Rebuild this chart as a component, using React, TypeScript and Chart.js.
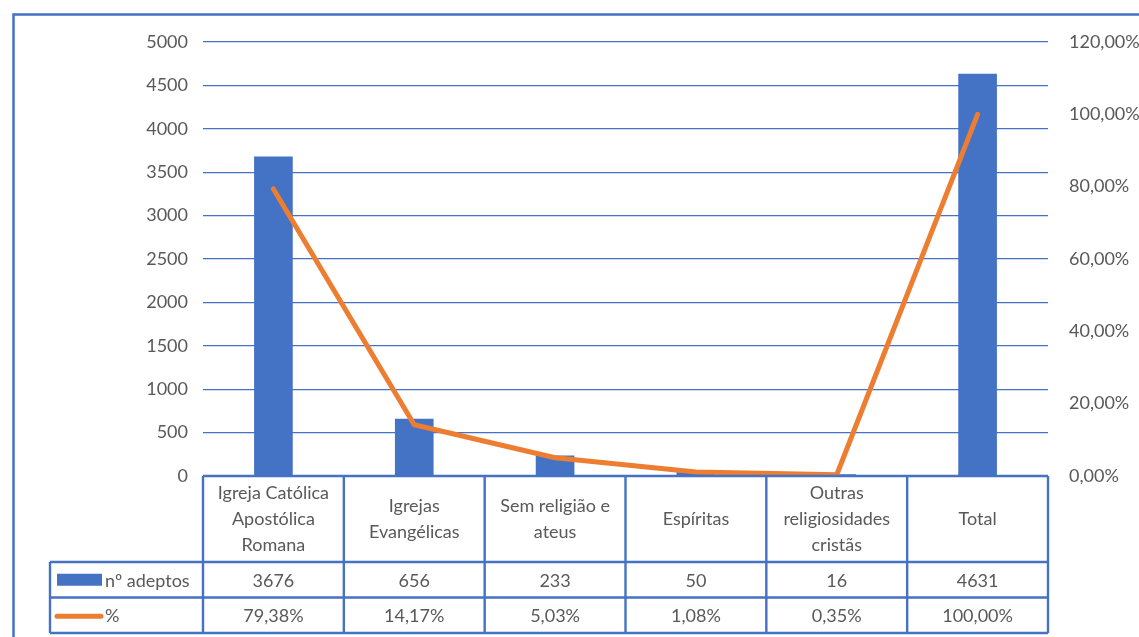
import React, { useEffect, useRef } from "react";
import { Chart, registerables } from "chart.js";

Chart.register(...registerables);

const categories: string[][] = [
  ["Igreja Católica", "Apostólica", "Romana"],
  ["Igrejas", "Evangélicas"],
  ["Sem religião e", "ateus"],
  ["Espíritas"],
  ["Outras", "religiosidades", "cristãs"],
  ["Total"],
];
const adeptos: number[] = [3676, 656, 233, 50, 16, 4631];
const percent: number[] = [79.38, 14.17, 5.03, 1.08, 0.35, 100.0];
const seriesNames: string[] = ["nº adeptos", "%"];

const BLUE = "#4472C4";
const ORANGE = "#ED7D31";
const TEXT = "#595959";
const FONT = "Lato, 'Open Sans', sans-serif";

const fmtPct = (v: number) => v.toFixed(2).replace(".", ",") + "%";

const tablePlugin = {
  id: "dataTable",
  afterDraw(chart: any) {
    const ctx = chart.ctx as CanvasRenderingContext2D;
    const area = chart.chartArea;
    const n = categories.length;
    const w = (area.right - area.left) / n;
    const top = area.bottom;
    const headH = 86;
    const rowH = 35.5;
    const legendLeft = 50;
    const r1 = top + headH;
    const r2 = r1 + rowH;
    const r3 = r2 + rowH;
    ctx.save();
    // outer frame
    ctx.strokeStyle = BLUE;
    ctx.lineWidth = 2.5;
    ctx.strokeRect(13.5, 14.5, 1300, 800);

    ctx.lineWidth = 2.4;
    ctx.strokeStyle = BLUE;
    ctx.beginPath();
    ctx.moveTo(area.left, top);
    ctx.lineTo(area.right, top);
    ctx.moveTo(legendLeft, r1);
    ctx.lineTo(area.right, r1);
    ctx.moveTo(legendLeft, r2);
    ctx.lineTo(area.right, r2);
    ctx.moveTo(legendLeft, r3);
    ctx.lineTo(area.right, r3);
    ctx.moveTo(legendLeft, r1);
    ctx.lineTo(legendLeft, r3);
    for (let i = 0; i <= n; i++) {
      const x = area.left + i * w;
      ctx.moveTo(x, top);
      ctx.lineTo(x, r3);
    }
    ctx.stroke();

    ctx.fillStyle = TEXT;
    ctx.font = `18px ${FONT}`;
    ctx.textAlign = "center";
    ctx.textBaseline = "middle";
    const lh = 26;
    const xs = chart.scales.x;
    for (let i = 0; i < n; i++) {
      const cx = xs.getPixelForValue(i);
      const lines = categories[i];
      const cy = (top + r1) / 2;
      lines.forEach((ln, k) => {
        ctx.fillText(ln, cx, cy + (k - (lines.length - 1) / 2) * lh);
      });
      ctx.fillText(String(adeptos[i]), cx, (r1 + r2) / 2 + 1);
      ctx.fillText(fmtPct(percent[i]), cx, (r2 + r3) / 2 + 1);
    }
    ctx.fillStyle = BLUE;
    ctx.fillRect(57, (r1 + r2) / 2 - 6, 45, 12);
    ctx.strokeStyle = ORANGE;
    ctx.lineWidth = 5;
    ctx.lineCap = "round";
    ctx.beginPath();
    ctx.moveTo(57, (r2 + r3) / 2 + 1);
    ctx.lineTo(101, (r2 + r3) / 2 + 1);
    ctx.stroke();
    ctx.fillStyle = TEXT;
    ctx.textAlign = "left";
    ctx.fillText(seriesNames[0], 105, (r1 + r2) / 2 + 1);
    ctx.fillText(seriesNames[1], 105, (r2 + r3) / 2 + 1);
    ctx.restore();
  },
};

export default function App() {
  const ref = useRef<HTMLCanvasElement | null>(null);
  useEffect(() => {
    if (!ref.current) return;
    const chart = new Chart(ref.current, {
      type: "bar",
      data: {
        labels: categories.map((c) => c.join(" ")),
        datasets: [
          {
            type: "line",
            label: seriesNames[1],
            data: percent,
            yAxisID: "y1",
            borderColor: ORANGE,
            backgroundColor: ORANGE,
            borderWidth: 5,
            pointRadius: 0,
            tension: 0,
            borderCapStyle: "round",
            borderJoinStyle: "round",
            order: 1,
          } as any,
          {
            type: "bar",
            label: seriesNames[0],
            data: adeptos,
            yAxisID: "y",
            backgroundColor: BLUE,
            barThickness: 38,
            order: 2,
          } as any,
        ],
      },
      options: {
        responsive: false,
        animation: false,
        layout: { padding: { top: 42, bottom: 161, left: 0, right: 0 } },
        plugins: { legend: { display: false }, tooltip: { enabled: false } },
        scales: {
          x: { display: false, offset: true },
          y: {
            position: "left",
            min: 0,
            max: 5000,
            ticks: {
              stepSize: 500,
              padding: 15,
              color: TEXT,
              font: { family: FONT, size: 18 },
              callback: (v: any) => String(v),
            },
            grid: { color: BLUE, lineWidth: 1.3, drawTicks: false },
            border: { display: false },
            afterFit: (s: any) => {
              s.width = 203;
            },
          },
          y1: {
            position: "right",
            min: 0,
            max: 120,
            ticks: {
              stepSize: 20,
              padding: 21,
              color: TEXT,
              font: { family: FONT, size: 18 },
              callback: (v: any) => fmtPct(Number(v)),
            },
            grid: { display: false, drawTicks: false },
            border: { display: false },
            afterFit: (s: any) => {
              s.width = 91;
            },
          },
        },
      },
      plugins: [tablePlugin],
    });
    return () => chart.destroy();
  }, []);
  return (
    <div style={{ position: "fixed", left: 0, top: 0, width: 1139, height: 637, background: "#fff" }}>
      <canvas ref={ref} width={1139} height={637} style={{ width: 1139, height: 637 }} />
    </div>
  );
}
